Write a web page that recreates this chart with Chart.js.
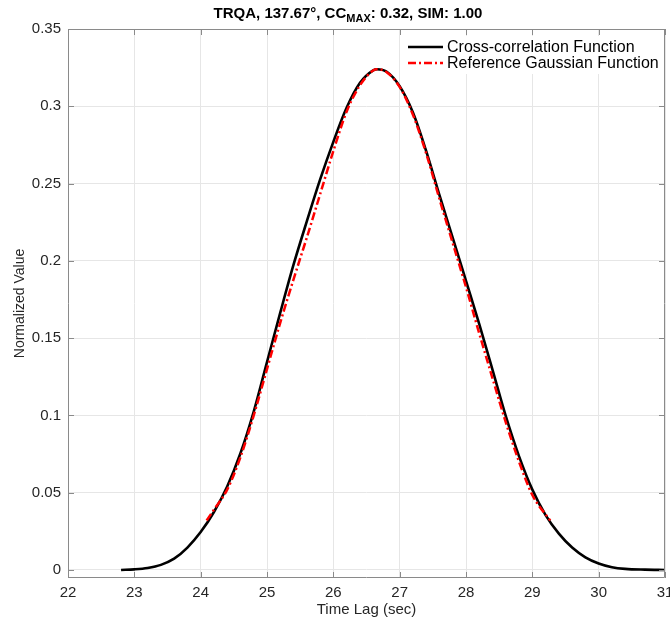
<!DOCTYPE html>
<html>
<head>
<meta charset="utf-8">
<script src="https://cdn.jsdelivr.net/npm/chart.js@4.4.1/dist/chart.umd.min.js"></script>
<style>
  html, body { margin: 0; padding: 0; background: #fff; }
  #wrap { width: 670px; height: 621px; }
</style>
</head>
<body>
<div id="wrap"><canvas id="ccChart" width="670" height="621"></canvas></div>
<script>
// values
const ccLag = [22.8, 23.0, 23.2, 23.4, 23.6, 23.8, 24.0, 24.2, 24.4, 24.6, 24.8, 25.0, 25.2, 25.4, 25.6, 25.8, 26.0, 26.2, 26.4, 26.6, 26.66, 26.8, 27.0, 27.2, 27.4, 27.6, 27.8, 28.0, 28.2, 28.4, 28.6, 28.8, 29.0, 29.2, 29.4, 29.6, 29.8, 30.0, 30.2, 30.4, 30.7, 31.0];
const ccValue = [0.0000, 0.0004, 0.0013, 0.0033, 0.0073, 0.0145, 0.0245, 0.0375, 0.0540, 0.0755, 0.1025, 0.1345, 0.1665, 0.1975, 0.2255, 0.2525, 0.2770, 0.2990, 0.3150, 0.3232, 0.3240, 0.3225, 0.3130, 0.2960, 0.2710, 0.2425, 0.2149, 0.1870, 0.1590, 0.1295, 0.0995, 0.0735, 0.0520, 0.0355, 0.0235, 0.0145, 0.0082, 0.0042, 0.0018, 0.0007, 0.0002, 0.0000];

const gaussLag = [24.09, 24.2, 24.4, 24.6, 24.8, 25.0, 25.2, 25.4, 25.6, 25.8, 26.0, 26.2, 26.4, 26.6, 26.66, 26.8, 27.0, 27.2, 27.4, 27.6, 27.8, 28.0, 28.2, 28.4, 28.6, 28.8, 29.0, 29.27];
const gaussValue = [0.032, 0.039, 0.052, 0.073, 0.100, 0.130, 0.160, 0.188, 0.215, 0.243, 0.271, 0.2965, 0.3135, 0.3232, 0.3240, 0.3222, 0.3125, 0.2945, 0.2695, 0.2400, 0.2115, 0.1830, 0.1530, 0.1240, 0.0955, 0.0700, 0.0485, 0.0320];

const xTicks = [22, 23, 24, 25, 26, 27, 28, 29, 30, 31];
const yTicks = [0, 0.05, 0.1, 0.15, 0.2, 0.25, 0.3, 0.35];

const legendLabels = ['Cross-correlation Function', 'Reference Gaussian Function'];

const axisColor = '#8a8a8a';
const textColor = '#262626';
const gridColor = '#e6e6e6';
const redDash = [8, 3, 2, 3];

function toPoints(xs, ys) {
    return xs.map(function(x, i) { return { x: x, y: ys[i] }; });
}

// box, inward ticks, legend and title drawn the MATLAB way
const matlabFrame = {
    id: 'matlabFrame',
    afterDraw: function(chart) {
        const ctx = chart.ctx;
        const a = chart.chartArea;
        const xs = chart.scales.x;
        const ys = chart.scales.y;
        ctx.save();

        // box
        ctx.strokeStyle = axisColor;
        ctx.lineWidth = 1;
        ctx.beginPath();
        ctx.moveTo(a.left + 0.5, a.top + 0.5);
        ctx.lineTo(a.right - 0.5, a.top + 0.5);
        ctx.lineTo(a.right - 0.5, a.bottom - 0.5);
        ctx.lineTo(a.left + 0.5, a.bottom - 0.5);
        ctx.closePath();
        ctx.stroke();

        // inward ticks
        const tl = 6;
        ctx.beginPath();
        xTicks.forEach(function(v) {
            const px = Math.round(xs.getPixelForValue(v)) + 0.5;
            ctx.moveTo(px, a.bottom); ctx.lineTo(px, a.bottom - tl);
            ctx.moveTo(px, a.top); ctx.lineTo(px, a.top + tl);
        });
        yTicks.forEach(function(v) {
            const py = Math.round(ys.getPixelForValue(v)) + 0.5;
            ctx.moveTo(a.left, py); ctx.lineTo(a.left + tl, py);
            ctx.moveTo(a.right, py); ctx.lineTo(a.right - tl, py);
        });
        ctx.stroke();

        // legend
        const lx = 401, ly = 36, lw = 262, lh = 38;
        ctx.fillStyle = '#fff';
        ctx.fillRect(lx, ly, lw, lh);
        ctx.font = '16px "Liberation Sans", Arial, sans-serif';
        ctx.textBaseline = 'middle';
        ctx.textAlign = 'left';
        const rows = [
            { y: 47, color: '#000', dash: [], width: 2.5 },
            { y: 63, color: '#ff0000', dash: redDash, width: 2.5 }
        ];
        rows.forEach(function(r, i) {
            ctx.strokeStyle = r.color;
            ctx.lineWidth = r.width;
            ctx.setLineDash(r.dash);
            ctx.beginPath();
            ctx.moveTo(408, r.y);
            ctx.lineTo(443, r.y);
            ctx.stroke();
            ctx.setLineDash([]);
            ctx.fillStyle = '#000';
            ctx.fillText(legendLabels[i], 447, r.y + 1);
        });

        // title with subscript
        const big = 'bold 15px "Liberation Sans", Arial, sans-serif';
        const small = 'bold 11px "Liberation Sans", Arial, sans-serif';
        const parts = [
            { t: 'TRQA, 137.67\u00b0, CC', f: big, dy: 0 },
            { t: 'MAX', f: small, dy: 4 },
            { t: ': 0.32, SIM: 1.00', f: big, dy: 0 }
        ];
        let total = 0;
        parts.forEach(function(p) { ctx.font = p.f; p.w = ctx.measureText(p.t).width; total += p.w; });
        let tx = 348 - total / 2;
        ctx.fillStyle = '#000';
        ctx.textBaseline = 'alphabetic';
        parts.forEach(function(p) {
            ctx.font = p.f;
            ctx.fillText(p.t, tx, 18 + p.dy);
            tx += p.w;
        });
        ctx.restore();
    }
};

const ctx = document.getElementById('ccChart').getContext('2d');
const ccChart = new Chart(ctx, {
    type: 'scatter',
    data: {
        datasets: [{
            label: legendLabels[0],
            data: toPoints(ccLag, ccValue),
            showLine: true,
            borderColor: '#000',
            borderWidth: 2.6,
            pointRadius: 0,
            cubicInterpolationMode: 'monotone',
            order: 1
        }, {
            label: legendLabels[1],
            data: toPoints(gaussLag, gaussValue),
            showLine: true,
            borderColor: '#ff0000',
            borderWidth: 2.5,
            borderDash: redDash,
            pointRadius: 0,
            cubicInterpolationMode: 'monotone',
            order: 0
        }]
    },
    options: {
        responsive: false,
        animation: false,
        layout: { padding: { left: 0, right: 5, top: 29, bottom: 0 } },
        plugins: {
            legend: { display: false },
            tooltip: { enabled: false }
        },
        scales: {
            x: {
                type: 'linear',
                min: 22,
                max: 31,
                afterBuildTicks: function(scale) {
                    scale.ticks = xTicks.map(function(v) { return { value: v }; });
                },
                afterFit: function(scale) {
                    scale.height = 43;
                    scale.paddingLeft = 0;
                    scale.paddingRight = 0;
                },
                grid: { color: gridColor, drawTicks: false },
                border: { display: false },
                ticks: {
                    color: textColor,
                    padding: 6,
                    maxRotation: 0,
                    autoSkip: false,
                    font: { family: '"Liberation Sans", Arial, sans-serif', size: 15 },
                    callback: function(v) { return String(v); }
                },
                title: {
                    display: true,
                    text: 'Time Lag (sec)',
                    color: textColor,
                    padding: { top: 0, bottom: 2 },
                    font: { family: '"Liberation Sans", Arial, sans-serif', size: 15 }
                }
            },
            y: {
                type: 'linear',
                min: -0.0052,
                max: 0.35,
                afterBuildTicks: function(scale) {
                    scale.ticks = yTicks.map(function(v) { return { value: v }; });
                },
                afterFit: function(scale) {
                    scale.width = 68;
                    scale.paddingTop = 0;
                    scale.paddingBottom = 0;
                },
                grid: { color: gridColor, drawTicks: false },
                border: { display: false },
                ticks: {
                    color: textColor,
                    padding: 7,
                    autoSkip: false,
                    font: { family: '"Liberation Sans", Arial, sans-serif', size: 15 },
                    callback: function(v) { return String(v); }
                },
                title: {
                    display: true,
                    text: 'Normalized Value',
                    color: textColor,
                    padding: { top: 12, bottom: 0 },
                    font: { family: '"Liberation Sans", Arial, sans-serif', size: 14 }
                }
            }
        }
    },
    plugins: [matlabFrame]
});
</script>
</body>
</html>
